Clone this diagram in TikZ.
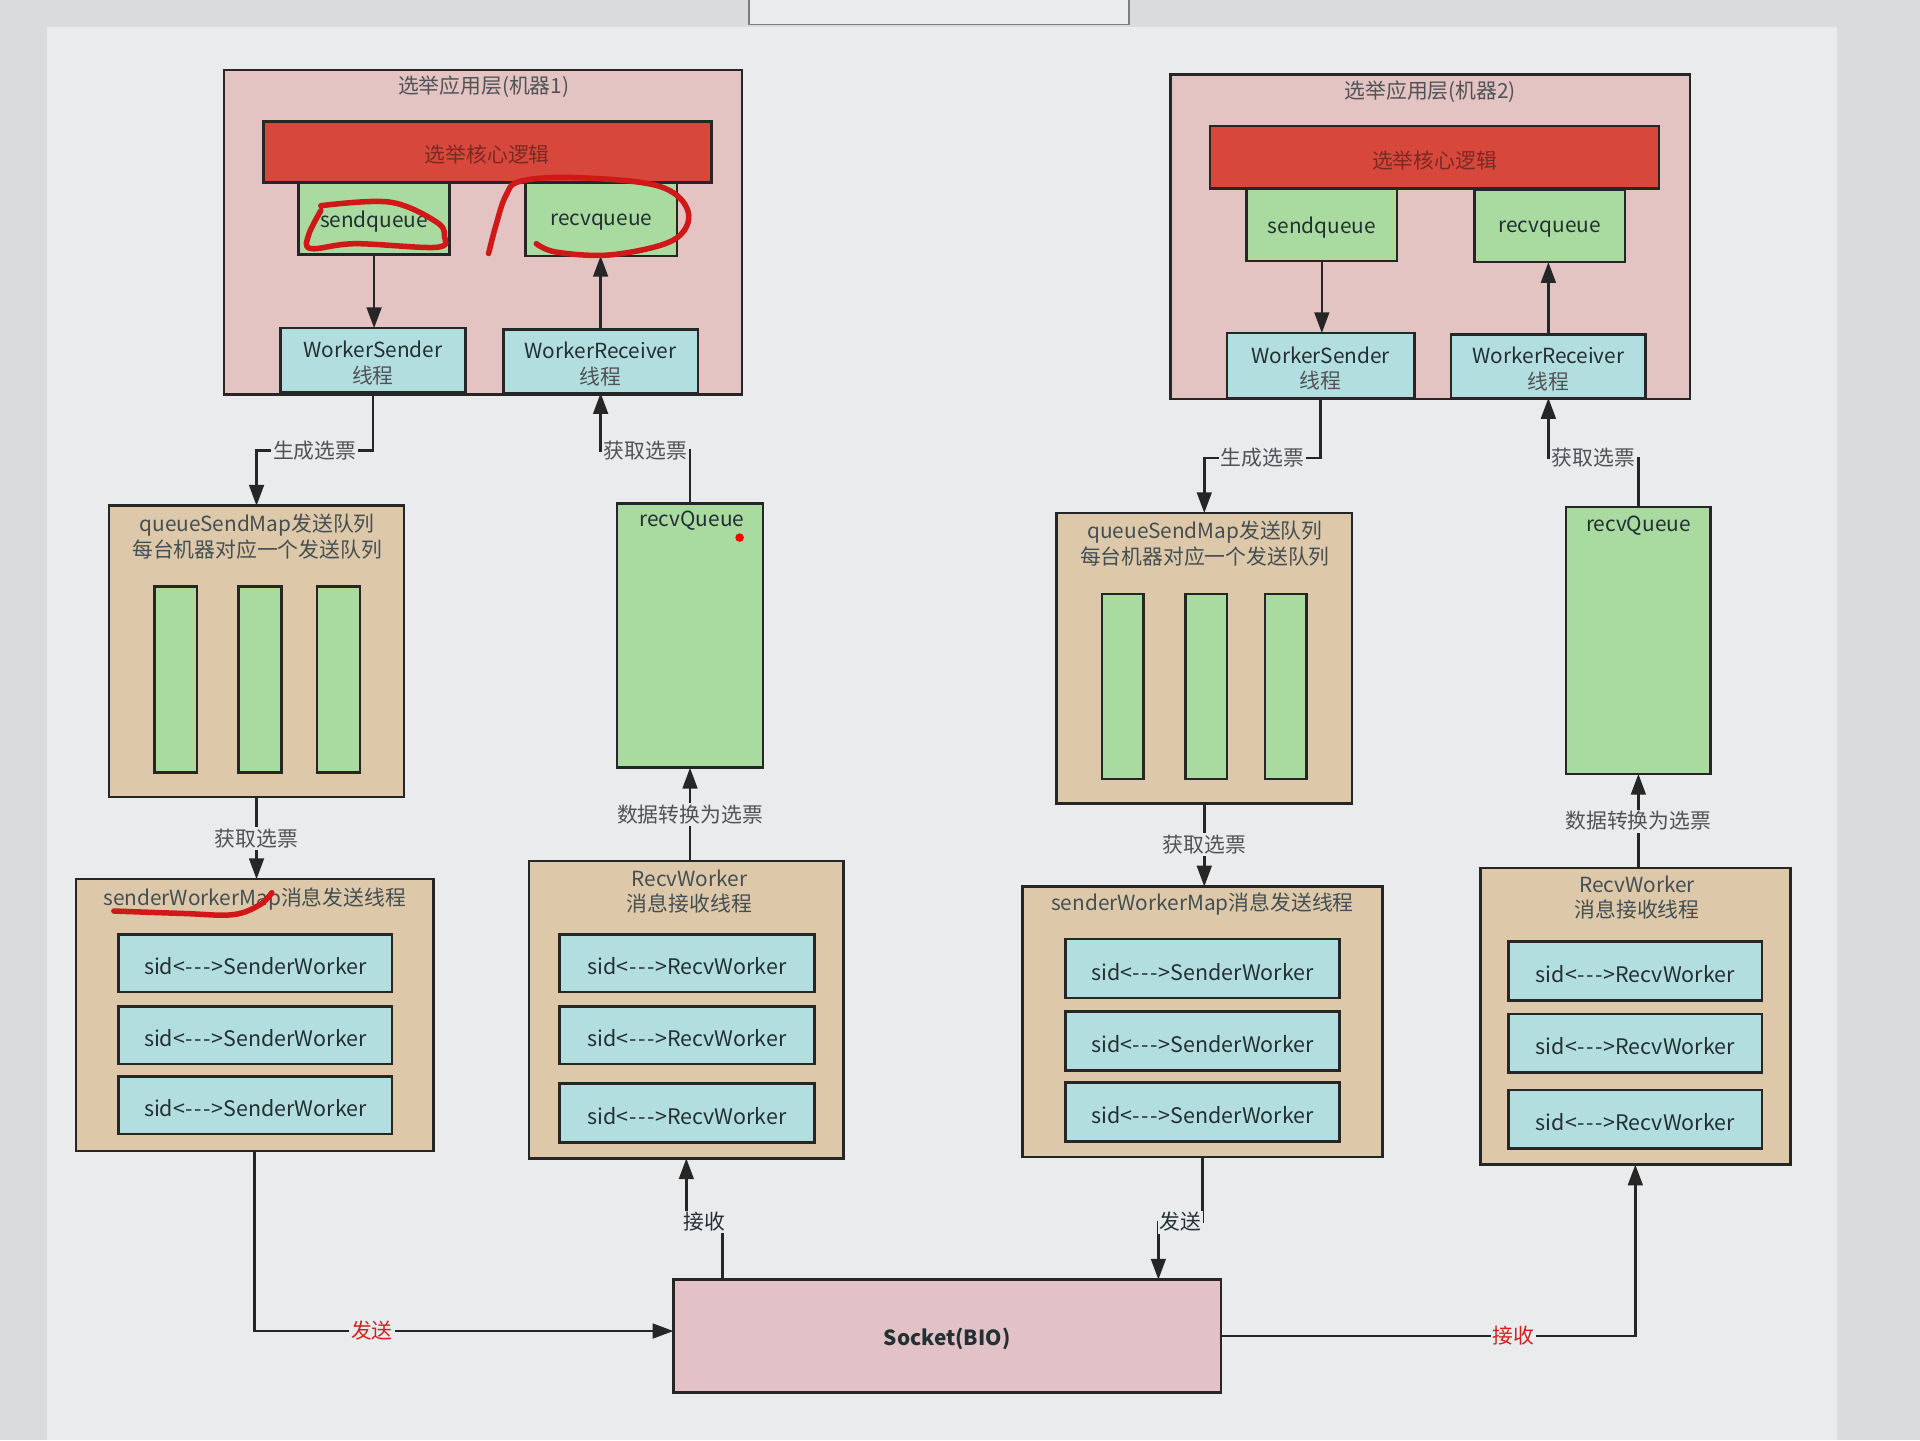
\documentclass[tikz,border=0pt]{standalone}
\usepackage{fontspec}
\setmainfont{Noto Sans CJK SC}
\usetikzlibrary{arrows.meta}
\definecolor{bgout}{HTML}{D9DBDD}
\definecolor{bgin}{HTML}{E9EBEC}
\definecolor{lineC}{HTML}{262626}
\definecolor{pinkC}{HTML}{E4C3C3}
\definecolor{redC}{HTML}{D8473C}
\definecolor{greenC}{HTML}{A9DA9F}
\definecolor{blueC}{HTML}{B3DEDF}
\definecolor{tanC}{HTML}{DDC8AA}
\definecolor{sockC}{HTML}{E2C2C6}
\definecolor{textC}{HTML}{233033}
\definecolor{grayT}{HTML}{505356}
\definecolor{redT}{HTML}{D42020}
\definecolor{coreT}{HTML}{7A2A22}
\definecolor{scribC}{HTML}{D01818}
\newcommand\mkbox[7]{%
  \node[#1, minimum width={(#5-#3)*1pt}, minimum height={(#6-#4)*1pt}] (#2) at ({(#3+#5)/2},{(#4+#6)/2}) {};
  \node[#1, draw=none, fill=none, minimum width=0pt, minimum height=0pt] (#2t) at ({(#3+#5)/2},{(#4+#6)/2+2.5}) {#7};}
\newcommand\dsh{\kern0.6pt-\kern0.6pt}
\begin{document}
\begin{tikzpicture}[x=1pt,y=-1pt,
  box/.style={draw=lineC, line width=2.1pt, inner sep=0pt, outer sep=0pt, align=center,
    font=\fontsize{17}{21}\selectfont, text=textC},
  mach/.style={box, fill=pinkC},
  core/.style={box, fill=redC, text=coreT},
  grn/.style={box, fill=greenC, text=textC},
  blu/.style={box, fill=blueC},
  sid/.style={blu, font=\fontsize{17.5}{21}\selectfont},
  tan/.style={box, fill=tanC},
  sockbox/.style={box, fill=sockC, font=\fontsize{17}{21}\selectfont\bfseries},
  txt/.style={font=\fontsize{17}{21}\selectfont, text=grayT, align=center, inner sep=0pt},
  lbl/.style={font=\fontsize{17}{21}\selectfont, text=grayT, fill=bgin, inner sep=1.5pt},
  dlbl/.style={lbl, text=textC},
  rlbl/.style={lbl, text=redT},
  arr/.style={draw=lineC, line width=2.1pt, -{Triangle[length=17pt,width=12pt]}},
  scrib/.style={draw=scribC, line width=4.5pt, line cap=round, line join=round}]
\useasboundingbox (0,0) rectangle (1568,1176);
\fill[bgout] (0,0) rectangle (1568,1176);
\fill[bgin] (38,22) rectangle (1500,1176);
\draw[lineC!60, line width=1.5pt, fill=bgin] (612,-5) rectangle (922,20);
% machine 1
\mkbox{mach}{m1}{183}{57}{606}{322}{}
\node[txt] (m1t) at (395,71) {选举应用层(机器1)};
\mkbox{core}{c1}{215}{99}{581}{149}{选举核心逻辑}
\mkbox{grn}{sq1}{244}{149}{367}{208}{sendqueue}
\mkbox{grn}{rq1}{429}{149}{553}{209}{recvqueue}
\mkbox{blu}{ws1}{229}{268}{380}{320}{WorkerSender\\\textcolor{grayT}{线程}}
\mkbox{blu}{wr1}{411}{269}{570}{321}{WorkerReceiver\\\textcolor{grayT}{线程}}
% machine 2
\mkbox{mach}{m2}{956}{61}{1380}{326}{}
\node[txt] (m2t) at (1168,75) {选举应用层(机器2)};
\mkbox{core}{c2}{988}{103}{1355}{154}{选举核心逻辑}
\mkbox{grn}{sq2}{1018}{154}{1141}{213}{sendqueue}
\mkbox{grn}{rq2}{1204}{155}{1327}{214}{recvqueue}
\mkbox{blu}{ws2}{1002}{272}{1155}{325}{WorkerSender\\\textcolor{grayT}{线程}}
\mkbox{blu}{wr2}{1185}{273}{1344}{325}{WorkerReceiver\\\textcolor{grayT}{线程}}
% middle row 1
\mkbox{tan}{qsm1}{89}{413}{330}{651}{}
\node[txt, text=textC!85] (qsm1l) at (210,438) {queueSendMap发送队列\\每台机器对应一个发送队列};
\mkbox{grn}{b11}{126}{479}{161}{631}{}
\mkbox{grn}{b12}{195}{479}{230}{631}{}
\mkbox{grn}{b13}{259}{479}{294}{631}{}
\mkbox{grn}{rQ1}{504}{411}{623}{627}{}
\node[txt, text=textC] (rQ1l) at (565,425) {recvQueue};
\fill[red] (604,439) circle (3.5);
% middle row 2
\mkbox{tan}{qsm2}{863}{419}{1104}{656}{}
\node[txt, text=textC!85] (qsm2l) at (984,444) {queueSendMap发送队列\\每台机器对应一个发送队列};
\mkbox{grn}{b21}{900}{485}{934}{636}{}
\mkbox{grn}{b22}{968}{485}{1002}{636}{}
\mkbox{grn}{b23}{1033}{485}{1067}{636}{}
\mkbox{grn}{rQ2}{1279}{414}{1397}{632}{}
\node[txt, text=textC] (rQ2l) at (1338,429) {recvQueue};
% bottom row 1
\mkbox{tan}{swm1}{62}{718}{354}{940}{}
\node[txt, text=textC!85] (swm1l) at (208,734) {senderWorkerMap消息发送线程};
\mkbox{sid}{sw11}{97}{763}{320}{810}{sid<\dsh\dsh\dsh>SenderWorker}
\mkbox{sid}{sw12}{97}{822}{320}{869}{sid<\dsh\dsh\dsh>SenderWorker}
\mkbox{sid}{sw13}{97}{879}{320}{926}{sid<\dsh\dsh\dsh>SenderWorker}
\mkbox{tan}{rwk1}{432}{703}{689}{946}{}
\node[txt, text=textC!85] (rwk1l) at (563,728) {RecvWorker\\消息接收线程};
\mkbox{sid}{rw11}{457}{763}{665}{810}{sid<\dsh\dsh\dsh>RecvWorker}
\mkbox{sid}{rw12}{457}{822}{665}{869}{sid<\dsh\dsh\dsh>RecvWorker}
\mkbox{sid}{rw13}{457}{885}{665}{933}{sid<\dsh\dsh\dsh>RecvWorker}
% bottom row 2
\mkbox{tan}{swm2}{835}{724}{1129}{945}{}
\node[txt, text=textC!85] (swm2l) at (982,738) {senderWorkerMap消息发送线程};
\mkbox{sid}{sw21}{870}{767}{1094}{815}{sid<\dsh\dsh\dsh>SenderWorker}
\mkbox{sid}{sw22}{870}{826}{1094}{874}{sid<\dsh\dsh\dsh>SenderWorker}
\mkbox{sid}{sw23}{870}{884}{1094}{932}{sid<\dsh\dsh\dsh>SenderWorker}
\mkbox{tan}{rwk2}{1209}{709}{1462}{951}{}
\node[txt, text=textC!85] (rwk2l) at (1337,733) {RecvWorker\\消息接收线程};
\mkbox{sid}{rw21}{1232}{769}{1439}{817}{sid<\dsh\dsh\dsh>RecvWorker}
\mkbox{sid}{rw22}{1232}{828}{1439}{876}{sid<\dsh\dsh\dsh>RecvWorker}
\mkbox{sid}{rw23}{1232}{890}{1439}{938}{sid<\dsh\dsh\dsh>RecvWorker}
% socket
\mkbox{sockbox}{sock}{550}{1045}{997}{1137}{Socket(BIO)}
% connectors inside machines
\draw[arr] (sq1.south) -- (sq1.south |- ws1.north);
\draw[arr] (wr1.north) -- (wr1.north |- rq1.south);
\draw[arr] (sq2.south) -- (sq2.south |- ws2.north);
\draw[arr] (wr2.north) -- (wr2.north |- rq2.south);
% machine to middle
\draw[arr] (ws1.south) -- ++(0,48) -| node[lbl,pos=0.25]{生成选票} (qsm1.north);
\draw[arr] (rQ1.north) -- ++(0,-43) -| node[lbl,pos=0.25]{获取选票} (wr1.south);
\draw[arr] (ws2.south) -- ++(0,49) -| node[lbl,pos=0.25]{生成选票} (qsm2.north);
\draw[arr] (rQ2.north) -- ++(0,-40) -| node[lbl,pos=0.25]{获取选票} (wr2.south);
% middle to bottom
\draw[arr] (qsm1.south) -- node[lbl]{获取选票} (qsm1.south |- swm1.north);
\draw[arr] (rQ1.south |- rwk1.north) -- node[lbl]{数据转换为选票} (rQ1.south);
\draw[arr] (qsm2.south) -- node[lbl]{获取选票} (qsm2.south |- swm2.north);
\draw[arr] (rQ2.south |- rwk2.north) -- node[lbl]{数据转换为选票} (rQ2.south);
% socket connectors
\draw[arr] (swm1.south) |- node[rlbl,pos=0.64]{发送} ([yshift=4pt]sock.west);
\draw[arr] ([xshift=40pt]sock.north west) -- ++(0,-47) -| node[dlbl,pos=0.25]{接收} (rwk1.south);
\draw[arr] (swm2.south) -- ++(0,53) -| node[dlbl,pos=0.25]{发送} ([xshift=-51pt]sock.north east);
\draw[arr] (sock.east) -| node[rlbl,pos=0.353]{接收} (rwk2.south);
% hand-drawn annotations
\draw[scrib] plot[smooth, tension=0.6] coordinates {(262,168) (318,165) (356,181) (363,193) (356,202) (290,199) (254,203) (252,192) (262,172)};
\draw[scrib] plot[smooth, tension=0.6] coordinates {(399,207) (405,184) (413,160) (425,148) (470,145) (538,152) (562,173) (550,196) (500,208) (455,206) (438,199)};
\draw[scrib] plot[smooth, tension=0.6] coordinates {(93,744) (150,746) (190,747) (212,739) (222,729)};
\end{tikzpicture}
\end{document}
